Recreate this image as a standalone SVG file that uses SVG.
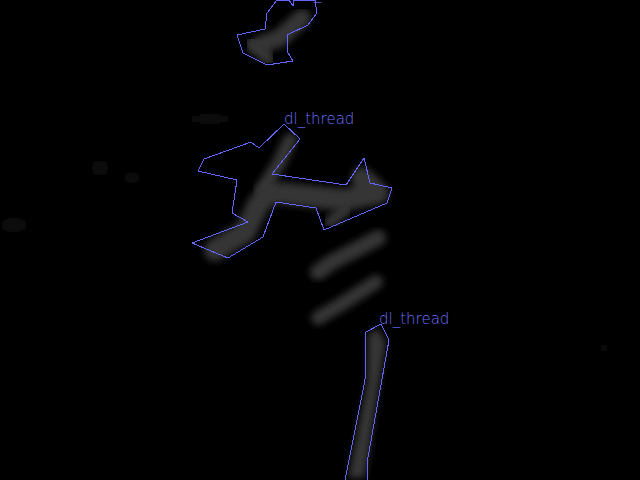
<svg xmlns="http://www.w3.org/2000/svg" width="640" height="480" viewBox="0 0 640 480">
<defs>
<filter id="blur" x="-30%" y="-30%" width="160%" height="160%"><feGaussianBlur stdDeviation="3.5"/></filter>
<filter id="blur2" x="-50%" y="-50%" width="200%" height="200%"><feGaussianBlur stdDeviation="5"/></filter>
<style>
.outline{fill:none;stroke:#6464ff;stroke-width:1;stroke-linejoin:miter;shape-rendering:crispEdges}
.label{fill:#7070ff;font-family:"DejaVu Sans",sans-serif;font-size:15px;font-weight:300}
.smear{fill:none;stroke:#363636;stroke-linecap:round;stroke-linejoin:round;filter:url(#blur)}
.faint{fill:#0f0f0f;filter:url(#blur2)}
</style>
</defs>
<rect width="640" height="480" fill="#000"/>
<g id="background">
<ellipse class="faint" cx="210" cy="119" rx="25" ry="5"/>
<ellipse class="faint" cx="100" cy="168" rx="9" ry="8"/>
<ellipse class="faint" cx="132" cy="178" rx="10" ry="5"/>
<ellipse class="faint" cx="14" cy="225" rx="14" ry="7"/>
<ellipse class="faint" cx="175" cy="235" rx="5" ry="4"/>
<ellipse class="faint" cx="604" cy="348" rx="8" ry="4"/>
<ellipse class="faint" cx="537" cy="188" rx="5" ry="3"/>
</g>
<g id="stripes">
<polyline class="smear" stroke-width="16" points="318,272 332,262 378,238"/>
<polyline class="smear" stroke-width="14" points="318,318 340,305 376,282"/>
</g>
<g id="node-top">
<polyline class="smear" stroke-width="18" stroke="#232323" points="260,45 280,38 302,18"/>
<polyline class="smear" stroke-width="14" stroke="#232323" points="252,44 268,58"/>
<polygon class="outline" points="277,0 289,0 293,6 294,0 315,0 317,13 308,25 287,35 288,53 293,61 267,65 243,53 237,35 265,29 267,13"/>
<text class="label" x="300" y="-1">dl_thread</text>
</g>
<g id="node-middle">
<polyline class="smear" stroke-width="22" points="215,250 245,232 258,205 270,192 345,200 378,193 362,178"/>
<polyline class="smear" stroke-width="14" points="262,190 278,165 290,140"/>
<polyline class="smear" stroke-width="12" points="330,222 345,210"/>
<polygon class="outline" points="284,124 300,139 272,174 346,185 364,158 370,183 392,188 387,203 324,230 316,208 276,202 263,237 228,258 192,243 248,222 232,213 237,180 198,171 204,159 251,142 259,148"/>
<text class="label" x="284" y="124">dl_thread</text>
</g>
<g id="node-bottom">
<polygon points="378,328 386,342 365,478 348,478 367,382 368,334" fill="#353535" filter="url(#blur)"/>
<polygon class="outline" points="381,324 389,340 367,463 367,480 345,480 365,380 366,332"/>
<text class="label" x="379" y="324">dl_thread</text>
</g>
<g id="connectors"/>
</svg>
